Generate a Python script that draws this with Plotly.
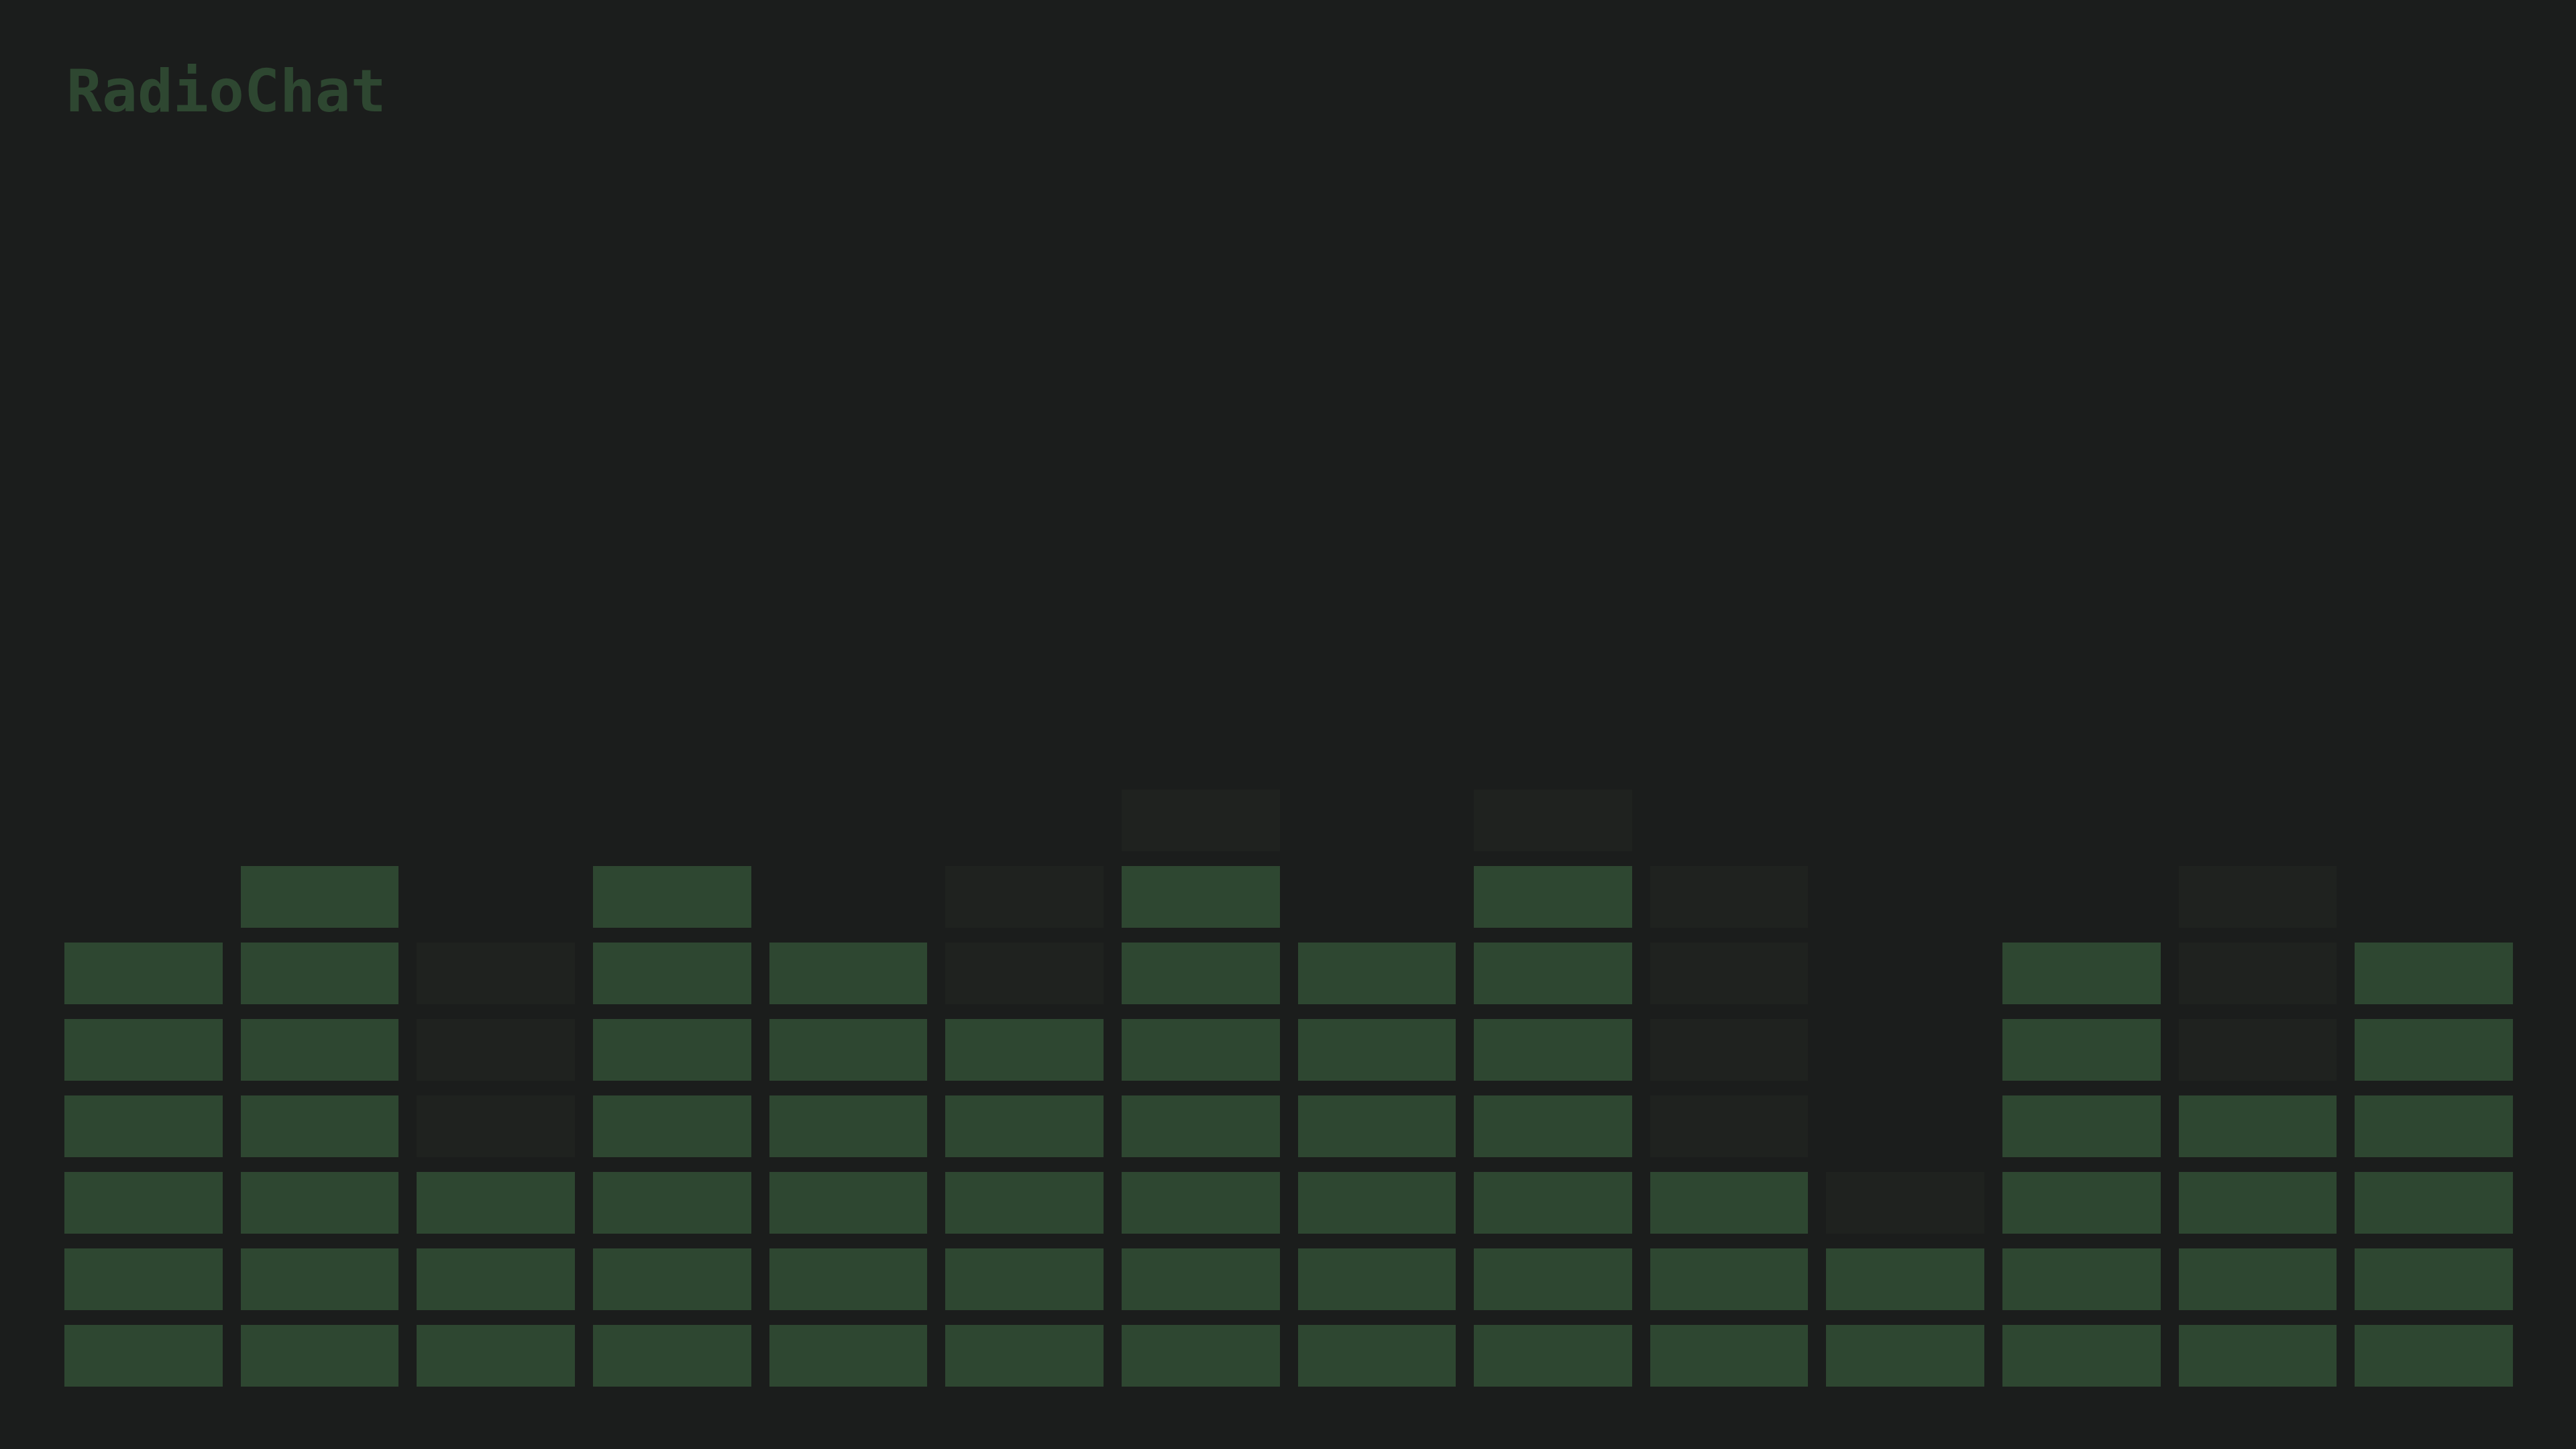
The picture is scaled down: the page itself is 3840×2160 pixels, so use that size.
import plotly.graph_objects as go

# equaliser bands: current level and recent peak (in blocks, 8 max)
bands = list(range(1, 15))
levels = [6, 7, 3, 7, 6, 5, 7, 6, 7, 3, 2, 6, 4, 6]
peaks = [6, 7, 6, 7, 6, 7, 8, 6, 8, 7, 3, 6, 7, 6]
n_rows = 8

BG = "#1b1d1c"
ON = "#2e4731"
GHOST = "#1f221f"

# build the block grid: 2 = lit, 1 = peak trail, None = empty
z = []
for r in range(1, n_rows + 1):
    row = []
    for lv, pk in zip(levels, peaks):
        if r <= lv:
            row.append(2)
        elif r <= pk:
            row.append(1)
        else:
            row.append(None)
    z.append(row)

fig = go.Figure()
fig.add_trace(go.Heatmap(
    z=z,
    x=bands,
    y=list(range(1, n_rows + 1)),
    zmin=1, zmax=2,
    colorscale=[[0, GHOST], [1, ON]],
    showscale=False,
    xgap=27, ygap=22,
    hoverinfo="skip",
))

fig.update_xaxes(visible=False, range=[0.5, 14.5])
fig.update_yaxes(visible=False, range=[0.5, n_rows + 0.5])
fig.update_layout(
    paper_bgcolor=BG,
    plot_bgcolor=BG,
    margin=dict(l=83, r=80, t=1166, b=82),
    title=dict(
        text="RadioChat",
        font=dict(family="DejaVu Sans Mono", size=88, color=ON, weight="bold"),
        x=99 / 3840, xanchor="left", xref="container",
        y=1 - 104 / 2160, yanchor="top", yref="container",
    ),
    showlegend=False,
)

# drop the page margin so the dark panel fills the window
page_js = (
    "document.body.style.margin='0';"
    "document.body.style.overflow='hidden';"
    "document.body.style.background='%s';"
    "Plotly.Plots.resize(document.getElementById('{plot_id}'));" % BG
)
fig.write_html("out.html", post_script=page_js, config={"displayModeBar": False})
